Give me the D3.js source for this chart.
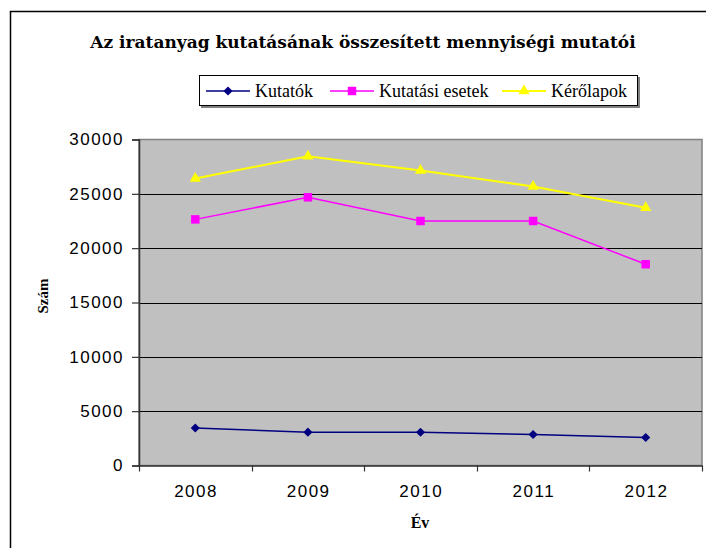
<!DOCTYPE html>
<html>
<head>
<meta charset="utf-8">
<script src="https://cdn.jsdelivr.net/npm/d3@7"></script>
<style>
  body { margin: 0; background: #fff; }
  svg { display: block; }
  .serif { font-family: 'DejaVu Serif', serif; }
  .tserif { font-family: 'Liberation Serif', serif; }
  .sans { font-family: 'Liberation Sans', Arial, sans-serif; }
</style>
</head>
<body>
<div id="chart"></div>
<script>
// data
var years = ['2008', '2009', '2010', '2011', '2012'];
var kutatok = [3450, 3070, 3060, 2850, 2580];
var esetek = [22650, 24680, 22500, 22500, 18520];
var kerolapok = [26420, 28450, 27150, 25680, 23720];
var yTicks = [0, 5000, 10000, 15000, 20000, 25000, 30000];
var seriesNames = ['Kutatók', 'Kutatási esetek', 'Kérőlapok'];

var svgWidth = 706;
var svgHeight = 548;

var plot = { left: 139, right: 702, top: 139.5, bottom: 465.5 };

var svg = d3.select('#chart')
    .append('svg')
    .attr('width', svgWidth)
    .attr('height', svgHeight);

// outer chart frame (right/bottom edges fall outside the window)
svg.append('rect')
    .attr('x', 10.5)
    .attr('y', 11.5)
    .attr('width', 740)
    .attr('height', 580)
    .attr('fill', '#fff')
    .attr('stroke', '#000')
    .attr('stroke-width', 1.5);

var xScale = d3.scaleBand()
    .domain(years)
    .range([plot.left, plot.right]);

var yScale = d3.scaleLinear()
    .domain([0, 30000])
    .range([plot.bottom, plot.top]);

// plot area
svg.append('rect')
    .attr('x', plot.left)
    .attr('y', plot.top)
    .attr('width', plot.right - plot.left)
    .attr('height', plot.bottom - plot.top)
    .attr('fill', '#c0c0c0')
    .attr('stroke', '#808080')
    .attr('stroke-width', 1.5);

// gridlines
svg.append('g')
    .selectAll('line')
    .data(yTicks.filter(d => d > 0 && d < 30000))
    .enter()
    .append('line')
    .attr('x1', plot.left)
    .attr('x2', plot.right)
    .attr('y1', d => Math.round(yScale(d)) + 0.5)
    .attr('y2', d => Math.round(yScale(d)) + 0.5)
    .attr('stroke', '#000')
    .attr('stroke-width', 1);

// y axis
var leftAxis = d3.axisLeft(yScale)
    .tickValues(yTicks)
    .tickSize(7)
    .tickPadding(8)
    .tickFormat(d => d);

var yAxis = svg.append('g')
    .attr('transform', `translate(${plot.left}, 0)`)
    .call(leftAxis);
yAxis.attr('font-family', null).attr('font-size', null);
yAxis.select('.domain').attr('stroke', '#333').attr('stroke-width', 1.5);
yAxis.selectAll('.tick line').attr('stroke', '#333').attr('stroke-width', 1.2);
yAxis.selectAll('text')
    .classed('sans', true)
    .attr('font-size', '17px')
    .attr('letter-spacing', '1.5px')
    .attr('fill', '#000');

// x axis: labels at band centers, ticks at band edges
var bottomAxis = d3.axisBottom(xScale)
    .tickSize(0)
    .tickPadding(19);

var xAxis = svg.append('g')
    .attr('transform', `translate(0, ${plot.bottom})`)
    .call(bottomAxis);
xAxis.attr('font-family', null).attr('font-size', null);
xAxis.select('.domain').attr('stroke', '#333').attr('stroke-width', 1.5);
xAxis.selectAll('text')
    .classed('sans', true)
    .attr('font-size', '17px')
    .attr('letter-spacing', '1.5px')
    .attr('dx', '0.75px')
    .attr('fill', '#000');

var edges = years.map(d => xScale(d)).concat([plot.right]);
svg.append('g')
    .selectAll('line')
    .data(edges)
    .enter()
    .append('line')
    .attr('x1', d => Math.round(d) + 0.5)
    .attr('x2', d => Math.round(d) + 0.5)
    .attr('y1', plot.bottom)
    .attr('y2', plot.bottom + 6)
    .attr('stroke', '#333')
    .attr('stroke-width', 1.2);

// series
var series = [
    { name: seriesNames[0], values: kutatok, color: '#000080', symbol: d3.symbolSquare, rotate: 45, size: 42, width: 1.5 },
    { name: seriesNames[1], values: esetek, color: '#ff00ff', symbol: d3.symbolSquare, rotate: 0, size: 72, width: 1.5 },
    { name: seriesNames[2], values: kerolapok, color: '#ffff00', symbol: d3.symbolTriangle, rotate: 0, size: 55, width: 2 }
];

var cx = d => xScale(d) + xScale.bandwidth() / 2;

var line = d3.line()
    .x(d => cx(d.year))
    .y(d => yScale(d.value));

series.forEach(function(s) {
    var pts = years.map((y, i) => ({ year: y, value: s.values[i] }));
    svg.append('path')
        .datum(pts)
        .attr('d', line)
        .attr('fill', 'none')
        .attr('stroke', s.color)
        .attr('stroke-width', s.width);
    svg.append('g')
        .selectAll('path')
        .data(pts)
        .enter()
        .append('path')
        .attr('transform', d => `translate(${cx(d.year)}, ${yScale(d.value)}) rotate(${s.rotate})`)
        .attr('d', d3.symbol().type(s.symbol).size(s.size))
        .attr('fill', s.color);
});

// title
svg.append('text')
    .classed('serif', true)
    .attr('x', 363)
    .attr('y', 48)
    .attr('text-anchor', 'middle')
    .attr('font-weight', 'bold')
    .attr('font-size', '17px')
    .text('Az iratanyag kutatásának összesített mennyiségi mutatói');

// legend
var legend = svg.append('g');
legend.append('rect')
    .attr('x', 201)
    .attr('y', 77)
    .attr('width', 439)
    .attr('height', 31)
    .attr('fill', '#808080');
legend.append('rect')
    .attr('x', 199.5)
    .attr('y', 75.5)
    .attr('width', 438)
    .attr('height', 30)
    .attr('fill', '#fff')
    .attr('stroke', '#000')
    .attr('stroke-width', 1);

var legendX = [206, 330, 502];
series.forEach(function(s, i) {
    var lx = legendX[i];
    legend.append('line')
        .attr('x1', lx)
        .attr('x2', lx + 44)
        .attr('y1', 91)
        .attr('y2', 91)
        .attr('stroke', s.color)
        .attr('stroke-width', s.width);
    legend.append('path')
        .attr('transform', `translate(${lx + 22}, 91) rotate(${s.rotate})`)
        .attr('d', d3.symbol().type(s.symbol).size(s.size))
        .attr('fill', s.color);
    legend.append('text')
        .classed('tserif', true)
        .attr('x', lx + 49)
        .attr('y', 97)
        .attr('font-size', '18px')
        .text(s.name);
});

// axis titles
svg.append('text')
    .classed('tserif', true)
    .attr('transform', 'translate(48, 296) rotate(-90)')
    .attr('text-anchor', 'middle')
    .attr('font-weight', 'bold')
    .attr('font-size', '15px')
    .text('Szám');

svg.append('text')
    .classed('tserif', true)
    .attr('x', 420)
    .attr('y', 528)
    .attr('text-anchor', 'middle')
    .attr('font-weight', 'bold')
    .attr('font-size', '16px')
    .text('Év');
</script>
</body>
</html>
